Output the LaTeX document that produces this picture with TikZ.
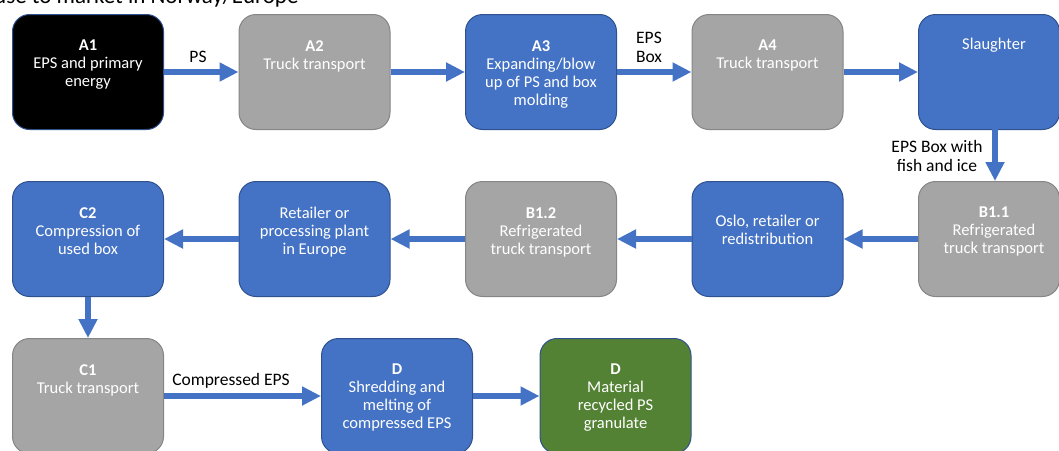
\documentclass[tikz,border=0pt]{standalone}
\usepackage{fontspec}
\setmainfont{Carlito}
\usetikzlibrary{arrows.meta,positioning,calc}
\definecolor{myblue}{HTML}{4472C4}
\definecolor{myblueborder}{HTML}{2F528F}
\definecolor{mygray}{HTML}{A5A5A5}
\definecolor{mygrayborder}{HTML}{858585}
\definecolor{mygreen}{HTML}{548235}
\begin{document}
\begin{tikzpicture}[x=1pt,y=-1pt,
  box/.style={rectangle, rounded corners=17pt, minimum width=151pt, minimum height=115pt, line width=1pt, inner sep=0pt, anchor=north west},
  bluebox/.style={box, fill=myblue, draw=myblueborder},
  graybox/.style={box, fill=mygray, draw=mygrayborder},
  blackbox/.style={box, fill=black, draw=myblueborder},
  greenbox/.style={box, fill=mygreen, draw=myblueborder},
  txt/.style={anchor=north, align=center, text=white, inner sep=0pt, font=\fontsize{16.5}{18}\selectfont},
  lbl/.style={align=center, text=black, inner sep=0pt, font=\fontsize{17.5}{19}\selectfont},
  flow/.style={draw=myblue, line width=5.5pt, -{Triangle[width=18pt,length=19pt]}, shorten >=0pt}
]
\useasboundingbox (0,0) rectangle (1059,450);
% title (cropped)
\node[anchor=base west, inner sep=0pt, font=\fontsize{23}{27}\selectfont] (title) at (-6,3) {use to market in Norway/Europe};
% row 1
\node[blackbox] (a1) at (12,14) {};
\node[graybox] (a2) at (238.5,14) {};
\node[bluebox] (a3) at (465,14) {};
\node[graybox] (a4) at (691.5,14) {};
\node[bluebox, minimum width=141pt] (sl) at (918,14) {};
% row 2
\node[bluebox] (c2) at (12,181) {};
\node[bluebox] (re) at (238.5,181) {};
\node[graybox] (b12) at (465,181) {};
\node[bluebox] (os) at (691.5,181) {};
\node[graybox, minimum width=141pt] (b11) at (918,181) {};
% row 3
\node[graybox] (c1) at (12,338) {};
\node[bluebox] (d1) at (321,338) {};
\node[greenbox] (d2) at (539.5,338) {};
% texts
\node[txt] (a1t) at ([yshift=-26pt]a1.north) {\textbf{A1}\\EPS and primary\\energy};
\node[txt] (a2t) at ([yshift=-26pt]a2.north) {\textbf{A2}\\Truck transport};
\node[txt] (a3t) at ([yshift=-26pt]a3.north) {\textbf{A3}\\Expanding/blow\\up of PS and box\\molding};
\node[txt] (a4t) at ([yshift=-26pt]a4.north) {\textbf{A4}\\Truck transport};
\node[txt] (slt) at (994,38) {Slaughter};
\node[txt] (c2t) at ([yshift=-26pt]c2.north) {\textbf{C2}\\Compression of\\used box};
\node[txt] (ret) at ([yshift=-26pt]re.north) {Retailer or\\processing plant\\in Europe};
\node[txt] (b12t) at ([yshift=-26pt]b12.north) {\textbf{B1.2}\\Refrigerated\\truck transport};
\node[txt] (ost) at ([yshift=-34pt]os.north) {Oslo, retailer or\\redistribution};
\node[txt] (b11t) at (994,207) {\textbf{B1.1}\\Refrigerated\\truck transport};
\node[txt] (c1t) at ([yshift=-26pt]c1.north) {\textbf{C1}\\Truck transport};
\node[txt] (d1t) at ([yshift=-26pt]d1.north) {\textbf{D}\\Shredding and\\melting of\\compressed EPS};
\node[txt] (d2t) at ([yshift=-26pt]d2.north) {\textbf{D}\\Material\\recycled PS\\granulate};
% arrows
\draw[flow] (a1.east) -- (a2.west);
\draw[flow] (a2.east) -- (a3.west);
\draw[flow] (a3.east) -- (a4.west);
\draw[flow] (a4.east) -- (sl.west);
\coordinate (slb) at (995,129);
\coordinate (b11top) at (995,181);
\draw[flow] (slb) -- (b11top);
\draw[flow] (b11.west) -- (os.east);
\draw[flow] (os.west) -- (b12.east);
\draw[flow] (b12.west) -- (re.east);
\draw[flow] (re.west) -- (c2.east);
\draw[flow] (c2.south) -- (c1.north);
\draw[flow] (c1.east) -- (d1.west);
\draw[flow] (d1.east) -- (d2.west);
% labels
\node[lbl] (pslbl) at (198,57) {PS};
\node[lbl] (boxlbl) at (649,47.5) {EPS\\Box};
\node[lbl] (fishlbl) at (937,156) {EPS Box with\\fish and ice};
\node[lbl] (complbl) at (231,381) {Compressed EPS};
\end{tikzpicture}
\end{document}
